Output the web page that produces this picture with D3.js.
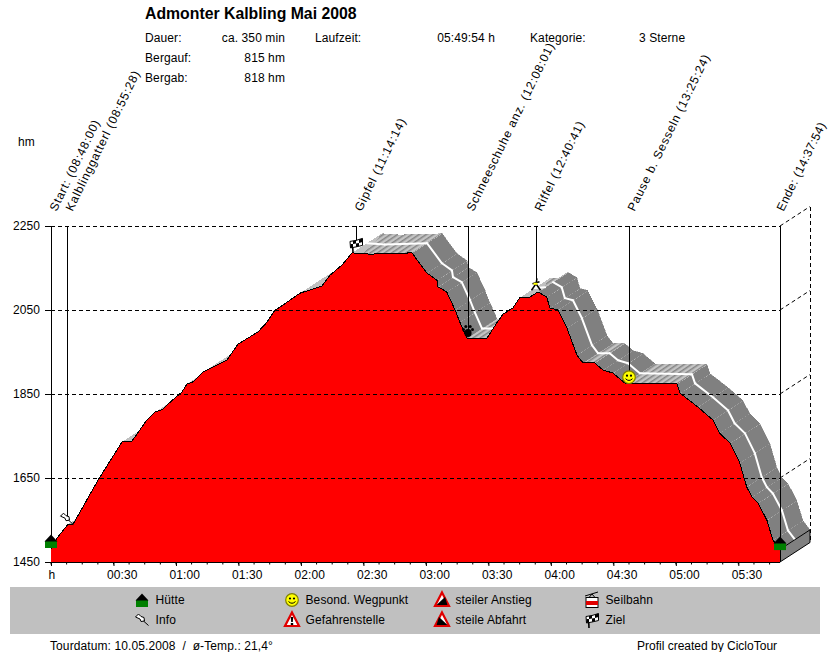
<!DOCTYPE html>
<html>
<head>
<meta charset="utf-8">
<script src="https://cdnjs.cloudflare.com/ajax/libs/d3/7.8.5/d3.min.js"></script>
<style>
html, body { margin: 0; padding: 0; background: #fff; }
svg { display: block; }
text { font-family: "Liberation Sans", Arial, sans-serif; font-size: 12px; fill: #000; letter-spacing: 0.1px; }
</style>
</head>
<body>
<div id="chart"></div>
<script>
// profile: minutes since start / elevation in hm
var profileMinutes = [0, 2.9, 8.2, 10.6, 22.6, 34.1, 38.9, 46, 50, 53.8, 55.7, 62.9, 65.3, 68.2, 73, 77.8, 84.5, 89.8, 95.5, 99.4, 103.7, 107.5, 110, 119.5, 130, 134, 139.7, 144.5, 153, 173.3, 180.5, 185.3, 185.8, 190, 194, 196.3, 199.7, 209.3, 214, 217, 221.8, 225, 230, 233.8, 238, 239.5, 243.4, 247.7, 252.5, 255.4, 261, 265, 269.8, 275.5, 300.5, 302, 310.6, 317.8, 321, 326, 330.7, 334, 336.5, 339.4, 343.7, 346.6, 350]
var profileElev = [1480, 1507, 1540, 1540, 1645, 1736, 1738, 1788, 1807, 1814, 1824, 1855, 1874, 1879, 1902, 1914, 1931, 1969, 1986, 1998, 2021, 2050, 2057, 2090, 2107, 2133, 2157, 2186, 2183, 2186, 2138, 2121, 2105, 2093, 2050, 2021, 1983, 1983, 2019, 2040, 2055, 2079, 2081, 2093, 2081, 2055, 2050, 2007, 1943, 1924, 1924, 1907, 1900, 1876, 1874, 1852, 1819, 1788, 1757, 1733, 1686, 1629, 1605, 1590, 1550, 1502, 1480]

var elevTicks = [1450, 1650, 1850, 2050, 2250]
var timeTicks = [0, 30, 60, 90, 120, 150, 180, 210, 240, 270, 300, 330]
var timeLabels = ["h", "00:30", "01:00", "01:30", "02:00", "02:30", "03:00", "03:30", "04:00", "04:30", "05:00", "05:30"]

var eventNames = ["Start: (08:48:00)", "Kalblinggatterl (08:55:28)", "Gipfel (11:14:14)", "Schneeschuhe anz. (12:08:01)", "Riffel (12:40:41)", "Pause b. Sesseln (13:25:24)", "Ende: (14:37:54)"]
var eventMinutes = [0, 7.47, 146.2, 200, 232.7, 277.4, 349.9]
var eventElev = [1500, 1552, 2205, 2000, 2110, 1890, 1495]
var eventIcons = ["house", "pin", "flag", "paw", "runner", "smiley", "house"]

var legendNames = ["Hütte", "Info", "Besond. Wegpunkt", "Gefahrenstelle", "steiler Anstieg", "steile Abfahrt", "Seilbahn", "Ziel"]
var legendIcons = ["house", "pin", "smiley", "danger", "climb", "descent", "gondola", "flag"]

var headerLabels = ["Dauer:", "Bergauf:", "Bergab:"]
var headerValues = ["ca. 350 min", "815 hm", "818 hm"]

var svgSize = { width: 830, height: 652 }
var plot = { left: 51, right: 780, top: 226, bottom: 562 }
var depth = { x: 30, y: -19.5 }

var svg = d3.select("#chart").append("svg")
    .attr("width", svgSize.width)
    .attr("height", svgSize.height)

var xScale = d3.scaleLinear().domain([0, 350]).range([plot.left, plot.right])
var yScale = d3.scaleLinear().domain([1450, 2250]).range([plot.bottom, plot.top])

var points = profileMinutes.map((m, i) => ({ x: xScale(m), y: yScale(profileElev[i]) }))

var defs = svg.append("defs")
var hatch = defs.append("pattern").attr("id", "flatHatch")
    .attr("width", 4).attr("height", 4)
    .attr("patternUnits", "userSpaceOnUse")
    .attr("patternTransform", "rotate(-34)")
hatch.append("rect").attr("width", 4).attr("height", 4).attr("fill", "#c4c4c4")
hatch.append("rect").attr("width", 4).attr("height", 1.5).attr("fill", "#858585")

// right wall of the 3d frame
var diag = svg.append("g").attr("stroke", "#000").attr("stroke-dasharray", "4,3")
diag.selectAll("line").data(elevTicks.slice(1)).enter().append("line")
    .attr("x1", plot.right).attr("x2", plot.right + depth.x)
    .attr("y1", d => yScale(d)).attr("y2", d => yScale(d) + depth.y)
diag.append("line")
    .attr("x1", plot.right + depth.x).attr("x2", plot.right + depth.x)
    .attr("y1", plot.top + depth.y).attr("y2", plot.bottom + depth.y)
    .attr("shape-rendering", "crispEdges")

// extruded band behind the profile, far segments first
var band = svg.append("g").attr("shape-rendering", "crispEdges")
d3.range(points.length - 2, -1, -1).forEach(i => {
    var a = points[i], b = points[i + 1]
    var slope = (profileElev[i + 1] - profileElev[i]) / (profileMinutes[i + 1] - profileMinutes[i])
    var fill = "#c0c0c0"
    if (slope < -1) fill = "#808080"
    else if (Math.abs(slope) <= 1) fill = "url(#flatHatch)"
    band.append("path")
        .attr("d", `M${a.x},${a.y}L${b.x},${b.y}L${b.x + depth.x},${b.y + depth.y}L${a.x + depth.x},${a.y + depth.y}Z`)
        .attr("fill", fill)
        .attr("stroke", slope < -1 ? "#808080" : "none")
        .attr("stroke-width", 0.5)
    if (slope < -1) {
        band.append("line")
            .attr("x1", a.x).attr("y1", a.y)
            .attr("x2", a.x + depth.x).attr("y2", a.y + depth.y)
            .attr("stroke", "#b4b4b4").attr("stroke-width", 1)
    }
})
// white centre line of the band
d3.range(0, points.length - 1).forEach(i => {
    if (profileElev[i + 1] - profileElev[i] > 5) return
    var a = points[i], b = points[i + 1]
    band.append("line")
        .attr("x1", a.x + depth.x / 2).attr("y1", a.y + depth.y / 2)
        .attr("x2", b.x + depth.x / 2).attr("y2", b.y + depth.y / 2)
        .attr("stroke", "#fff").attr("stroke-width", 2).attr("stroke-linecap", "round")
        .attr("shape-rendering", "auto")
})

// end cap
var last = points[points.length - 1]
svg.append("path")
    .attr("d", `M${last.x},${plot.bottom}L${last.x + depth.x},${plot.bottom + depth.y}L${last.x + depth.x},${last.y + depth.y}L${last.x},${last.y}Z`)
    .attr("fill", "#808080").attr("stroke", "#000")

// red profile
var area = d3.area().x(d => d.x).y0(plot.bottom).y1(d => d.y)
var line = d3.line().x(d => d.x).y(d => d.y)
svg.append("path").datum(points).attr("d", area).attr("fill", "#ff0000").attr("shape-rendering", "crispEdges")
svg.append("path").datum(points).attr("d", line).attr("fill", "none").attr("stroke", "#000").attr("shape-rendering", "crispEdges")

// dashed grid runs over everything
var grid = svg.append("g").attr("stroke", "#000").attr("stroke-dasharray", "4,3").attr("shape-rendering", "crispEdges")
grid.selectAll("line").data(elevTicks.slice(1)).enter().append("line")
    .attr("x1", plot.left).attr("x2", plot.right)
    .attr("y1", d => yScale(d)).attr("y2", d => yScale(d))

// axes
var leftAxis = d3.axisLeft(yScale).tickValues(elevTicks).tickSize(6).tickPadding(5).tickFormat(d3.format("d"))
var yAxis = svg.append("g").attr("transform", `translate(${plot.left},0)`).call(leftAxis)
yAxis.select(".domain").remove()

var bottomAxis = d3.axisBottom(xScale).tickValues(timeTicks).tickSize(4).tickPadding(4)
    .tickFormat((d, i) => timeLabels[i])
var xAxis = svg.append("g").attr("transform", `translate(0,${plot.bottom})`).call(bottomAxis)
xAxis.select(".domain").attr("d", `M${plot.left},0.5H${plot.right}`)
xAxis.selectAll("text").attr("text-anchor", "start").attr("dx", (d, i) => i == 0 ? -3 : -7)
var minorTicks = d3.range(0, 350, 7.5)
xAxis.selectAll("line.minor").data(minorTicks).enter().append("line")
    .attr("class", "minor")
    .attr("x1", d => xScale(d)).attr("x2", d => xScale(d))
    .attr("y1", 0).attr("y2", 2.5).attr("stroke", "#000")

svg.append("text").attr("x", 18).attr("y", 146).text("hm")

// event stems, labels and markers
function drawIcon(g, name) {
    if (name == "house") {
        g.append("rect").attr("x", -6).attr("y", 0).attr("width", 12).attr("height", 7).attr("fill", "#008000")
        g.append("path").attr("d", "M-6.5,0.5L0,-6.5L6.5,0.5Z").attr("fill", "#000")
    } else if (name == "smiley") {
        g.append("circle").attr("r", 6.3).attr("fill", "#ffff00").attr("stroke", "#808000").attr("stroke-width", 1.2)
        g.append("circle").attr("cx", -2).attr("cy", -1.5).attr("r", 1.1).attr("fill", "#000")
        g.append("circle").attr("cx", 2).attr("cy", -1.5).attr("r", 1.1).attr("fill", "#000")
        g.append("path").attr("d", "M-3.5,1.5Q0,5 3.5,1.5").attr("fill", "none").attr("stroke", "#000")
    } else if (name == "pin") {
        g.append("path").attr("d", "M-6.5,-3L-3.5,-6L-1,-3.5L2,-2.5L2.5,1L-1,1.5L-2,-1Z").attr("fill", "#fff").attr("stroke", "#000")
        g.append("line").attr("x1", 1.5).attr("y1", 1).attr("x2", 6.5).attr("y2", 5.5).attr("stroke", "#000")
    } else if (name == "flag") {
        g.append("line").attr("x1", -3.5).attr("y1", -3).attr("x2", -3).attr("y2", 8).attr("stroke", "#000").attr("stroke-width", 1.6)
        g.append("path").attr("d", "M-6,-3.5L0,-4.5L6.5,-6.5L6.5,0.5L0,2L-5.5,3Z").attr("fill", "#fff").attr("stroke", "#000")
        g.append("path").attr("d", "M-3,-4L0,-4.5L0,-1.5L-3,-1ZM3,-5.5L6.5,-6.5L6.5,-3L3,-2ZM0,-1.5L3,-2L3,1L0,2ZM-5.5,-1L-3,-1L-3,2.5L-5.5,3Z").attr("fill", "#000")
    } else if (name == "paw") {
        g.append("ellipse").attr("cy", 2).attr("rx", 3.6).attr("ry", 4).attr("fill", "#000")
        g.selectAll("circle").data([[-4.5, -1.5], [-2.2, -4.5], [2.2, -4.5], [4.5, -1.5]]).enter().append("circle")
            .attr("cx", d => d[0]).attr("cy", d => d[1]).attr("r", 1.5).attr("fill", "#000")
    } else if (name == "runner") {
        g.append("path").attr("d", "M1,-6.5L0,-1L-4.5,5.5M0,-1L4.5,5.5M-3.5,-1L3.5,-3").attr("fill", "none").attr("stroke", "#000").attr("stroke-width", 1.5)
        g.append("rect").attr("x", -2.5).attr("y", -2).attr("width", 4).attr("height", 2).attr("fill", "#ffff00")
    } else if (name == "danger" || name == "climb" || name == "descent") {
        g.append("path").attr("d", "M0,-7.5L7,6L-7,6Z").attr("fill", "#fff").attr("stroke", "#e00000").attr("stroke-width", 2.2)
        if (name == "danger") g.append("path").attr("d", "M-1.2,-3H1.2L0.8,2H-0.8ZM-1.2,3H1.2V5H-1.2Z").attr("fill", "#000")
        if (name == "climb") g.append("path").attr("d", "M-5.5,5L3,-3L5.5,5Z").attr("fill", "#000")
        if (name == "descent") g.append("path").attr("d", "M-3,-3L5.5,5L-5.5,5Z").attr("fill", "#000")
    } else if (name == "gondola") {
        g.append("line").attr("x1", -7).attr("y1", -4).attr("x2", 6).attr("y2", -8).attr("stroke", "#000")
        g.append("path").attr("d", "M-3,-2.5L0,-6L3,-2.5").attr("fill", "none").attr("stroke", "#000")
        g.append("rect").attr("x", -6).attr("y", -2.5).attr("width", 12).attr("height", 10).attr("fill", "#fff").attr("stroke", "#000")
        g.append("rect").attr("x", -6).attr("y", 1).attr("width", 12).attr("height", 4).attr("fill", "#e00000")
    }
}

var events = svg.append("g")
eventNames.forEach((name, i) => {
    var x = Math.round(xScale(eventMinutes[i])) + 0.5
    var isEnd = i == eventNames.length - 1
    events.append("line").attr("x1", x).attr("x2", x)
        .attr("y1", plot.top).attr("y2", isEnd ? plot.bottom : yScale(eventElev[i]))
        .attr("stroke", "#000")
    events.append("text").attr("transform", `translate(${x + (isEnd ? 3 : 5)},212) rotate(-64)`)
        .style("letter-spacing", isEnd ? "0.5px" : "0.8px").text(name)
    var g = events.append("g").attr("transform", `translate(${x - 0.5},${yScale(eventElev[i])})`)
    drawIcon(g, eventIcons[i])
})

// legend
var legendX = [142, 292, 442, 592]
var legendRowY = [600, 620]
svg.append("rect").attr("x", 10).attr("y", 587).attr("width", 810).attr("height", 47).attr("fill", "#c0c0c0")
var legend = svg.append("g")
legendNames.forEach((name, i) => {
    var col = Math.floor(i / 2), row = i % 2
    var g = legend.append("g").attr("transform", `translate(${legendX[col]},${legendRowY[row]})`)
    drawIcon(g, legendIcons[i])
    legend.append("text").attr("x", legendX[col] + 13.5).attr("y", legendRowY[row] + 4).text(name)
})

// header
svg.append("text").attr("x", 145).attr("y", 19).style("font-size", "15.8px").style("font-weight", "bold")
    .style("letter-spacing", "0").text("Admonter Kalbling Mai 2008")
headerLabels.forEach((t, i) => {
    svg.append("text").attr("x", 145).attr("y", 41.5 + i * 20).text(t)
    svg.append("text").attr("x", 285).attr("y", 41.5 + i * 20).attr("text-anchor", "end").text(headerValues[i])
})
svg.append("text").attr("x", 315).attr("y", 41.5).text("Laufzeit:")
svg.append("text").attr("x", 495).attr("y", 41.5).attr("text-anchor", "end").text("05:49:54 h")
svg.append("text").attr("x", 530).attr("y", 41.5).text("Kategorie:")
svg.append("text").attr("x", 639).attr("y", 41.5).text("3 Sterne")

// footer
svg.append("text").attr("x", 50).attr("y", 650).attr("xml:space", "preserve")
    .text("Tourdatum: 10.05.2008  /  ø-Temp.: 21,4°")
svg.append("text").attr("x", 637).attr("y", 650).style("letter-spacing", "0").text("Profil created by CicloTour")
</script>
</body>
</html>
